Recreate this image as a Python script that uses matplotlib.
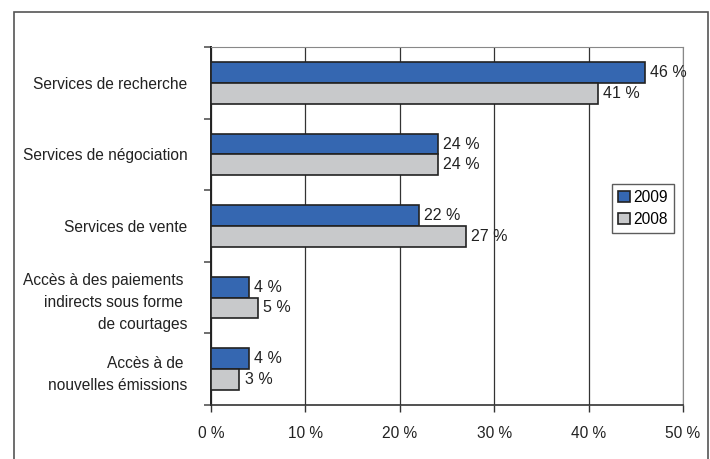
import matplotlib
matplotlib.use("Agg")
import matplotlib.pyplot as plt
from matplotlib.patches import Rectangle, Patch
import numpy as np

plt.rcParams['font.family'] = ['Liberation Sans', 'DejaVu Sans']

categories = [
    "Services de recherche",
    "Services de négociation",
    "Services de vente",
    "Accès à des paiements \nindirects sous forme \nde courtages",
    "Accès à de \nnouvelles émissions",
]
values_2009 = [46, 24, 22, 4, 4]
values_2008 = [41, 24, 27, 5, 3]
series_labels = ["2009", "2008"]
xticks = [0, 10, 20, 30, 40, 50]
xtick_labels = ["0 %", "10 %", "20 %", "30 %", "40 %", "50 %"]

blue = "#3567B1"
gray = "#C8C9CB"
edge = "#222222"
txt = "#222222"

W, H = 710, 459
fig = plt.figure(figsize=(W / 100, H / 100), dpi=100)

# outer frame
fig.add_artist(Rectangle((14 / W, -0.05), (708 - 14) / W, (H - 12) / H + 0.05,
                         transform=fig.transFigure, fill=False,
                         edgecolor="#555555", lw=1.2))

ax = fig.add_axes([211 / W, 1 - 405 / H, (683 - 211) / W, (405 - 47) / H])

n = len(categories)
y = np.arange(n)
bh = 0.29
ax.barh(y - bh / 2, values_2009, height=bh, color=blue, edgecolor=edge, lw=1.2,
        label=series_labels[0], zorder=3)
ax.barh(y + bh / 2, values_2008, height=bh, color=gray, edgecolor=edge, lw=1.2,
        label=series_labels[1], zorder=3)

for yi, v in zip(y, values_2009):
    ax.text(v + 0.55, yi - bh / 2, f"{v} %", va="center", ha="left", fontsize=11.5,
            color=txt, zorder=4)
for yi, v in zip(y, values_2008):
    ax.text(v + 0.55, yi + bh / 2, f"{v} %", va="center", ha="left", fontsize=11.5,
            color=txt, zorder=4)

ax.set_xlim(0, 50)
ax.set_ylim(n - 0.5, -0.5)
ax.set_xticks(xticks)
ax.set_xticklabels(xtick_labels, fontsize=11.2, color=txt)
ax.xaxis.grid(True, color="#333333", lw=0.9, zorder=0)

ax.set_yticks(y)
ax.set_yticklabels(categories, fontsize=11.2, color=txt, ha="right",
                   multialignment="right", linespacing=1.58)
ax.set_yticks(np.arange(n + 1) - 0.5, minor=True)
ax.tick_params(axis="y", which="major", length=0, pad=17)
ax.tick_params(axis="y", which="minor", length=5, color="#555555", width=1.2)
ax.tick_params(axis="x", length=5, color="#333333", width=1.0, pad=10,
               direction="out")

ax.spines["left"].set_color("#222222")
ax.spines["left"].set_linewidth(1.4)
ax.spines["bottom"].set_color("#333333")
ax.spines["bottom"].set_linewidth(1.2)
ax.spines["top"].set_color("#888888")
ax.spines["right"].set_color("#888888")

handles = [Patch(facecolor=blue, edgecolor=edge, lw=1.2),
           Patch(facecolor=gray, edgecolor=edge, lw=1.2)]
leg = ax.legend(handles, series_labels, loc="upper left",
                bbox_to_anchor=((612 - 211) / (683 - 211), 1 - (184 - 47) / (405 - 47)),
                fontsize=11.2, frameon=True, fancybox=False, handlelength=0.75,
                handleheight=0.75, handletextpad=0.2, borderpad=0.4,
                labelspacing=0.42, borderaxespad=0)
leg.get_frame().set_edgecolor("#333333")
leg.get_frame().set_linewidth(1.0)

fig.savefig("out.png", dpi=100)
